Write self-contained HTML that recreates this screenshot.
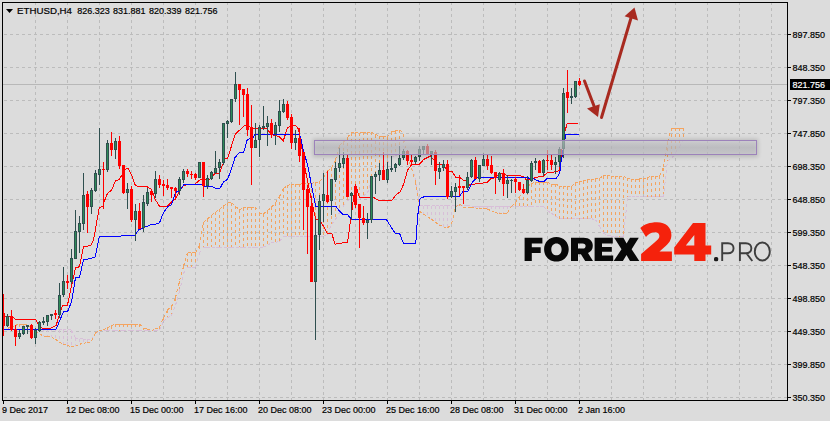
<!DOCTYPE html><html><head><meta charset="utf-8"><style>
html,body{margin:0;padding:0;background:#dcdcdc;}
body{width:830px;height:421px;overflow:hidden;position:relative;font-family:"Liberation Sans",sans-serif;}
svg{position:absolute;left:0;top:0;}
text{font-family:"Liberation Sans",sans-serif;}
</style></head><body>
<svg width="830" height="421" viewBox="0 0 830 421">
<rect x="0" y="0" width="830" height="421" fill="#dcdcdc"/>
<g shape-rendering="crispEdges" stroke="#bcbcbc" stroke-width="1" stroke-dasharray="3,3" fill="none">
<line x1="35.5" y1="2" x2="35.5" y2="400"/>
<line x1="67.5" y1="2" x2="67.5" y2="400"/>
<line x1="99.5" y1="2" x2="99.5" y2="400"/>
<line x1="131.5" y1="2" x2="131.5" y2="400"/>
<line x1="163.5" y1="2" x2="163.5" y2="400"/>
<line x1="195.5" y1="2" x2="195.5" y2="400"/>
<line x1="227.5" y1="2" x2="227.5" y2="400"/>
<line x1="259.5" y1="2" x2="259.5" y2="400"/>
<line x1="291.5" y1="2" x2="291.5" y2="400"/>
<line x1="323.5" y1="2" x2="323.5" y2="400"/>
<line x1="355.5" y1="2" x2="355.5" y2="400"/>
<line x1="387.5" y1="2" x2="387.5" y2="400"/>
<line x1="419.5" y1="2" x2="419.5" y2="400"/>
<line x1="451.5" y1="2" x2="451.5" y2="400"/>
<line x1="483.5" y1="2" x2="483.5" y2="400"/>
<line x1="515.5" y1="2" x2="515.5" y2="400"/>
<line x1="547.5" y1="2" x2="547.5" y2="400"/>
<line x1="579.5" y1="2" x2="579.5" y2="400"/>
<line x1="611.5" y1="2" x2="611.5" y2="400"/>
<line x1="643.5" y1="2" x2="643.5" y2="400"/>
<line x1="675.5" y1="2" x2="675.5" y2="400"/>
<line x1="707.5" y1="2" x2="707.5" y2="400"/>
<line x1="739.5" y1="2" x2="739.5" y2="400"/>
<line x1="771.5" y1="2" x2="771.5" y2="400"/>
<line x1="4" y1="34.5" x2="787" y2="34.5"/>
<line x1="4" y1="67.5" x2="787" y2="67.5"/>
<line x1="4" y1="100.5" x2="787" y2="100.5"/>
<line x1="4" y1="133.5" x2="787" y2="133.5"/>
<line x1="4" y1="166.5" x2="787" y2="166.5"/>
<line x1="4" y1="199.5" x2="787" y2="199.5"/>
<line x1="4" y1="232.5" x2="787" y2="232.5"/>
<line x1="4" y1="265.5" x2="787" y2="265.5"/>
<line x1="4" y1="298.5" x2="787" y2="298.5"/>
<line x1="4" y1="331.5" x2="787" y2="331.5"/>
<line x1="4" y1="364.5" x2="787" y2="364.5"/>
<line x1="4" y1="397.5" x2="787" y2="397.5"/>
</g>
<line x1="3" y1="84.5" x2="787" y2="84.5" stroke="#b8b8b8" stroke-width="1" shape-rendering="crispEdges"/>
<g shape-rendering="crispEdges" stroke-width="1" fill="none" stroke-dasharray="3,3">
<line x1="11.5" y1="327" x2="11.5" y2="329" stroke="#f4a460"/>
<line x1="15.5" y1="325" x2="15.5" y2="329" stroke="#f4a460"/>
<line x1="19.5" y1="324" x2="19.5" y2="329" stroke="#f4a460"/>
<line x1="23.5" y1="324" x2="23.5" y2="329" stroke="#f4a460"/>
<line x1="27.5" y1="325" x2="27.5" y2="329" stroke="#f4a460"/>
<line x1="39.5" y1="329" x2="39.5" y2="334" stroke="#d8bfd8"/>
<line x1="43.5" y1="329" x2="43.5" y2="336" stroke="#d8bfd8"/>
<line x1="47.5" y1="329" x2="47.5" y2="336" stroke="#d8bfd8"/>
<line x1="51.5" y1="329" x2="51.5" y2="337" stroke="#d8bfd8"/>
<line x1="55.5" y1="329" x2="55.5" y2="339" stroke="#d8bfd8"/>
<line x1="59.5" y1="330" x2="59.5" y2="342" stroke="#d8bfd8"/>
<line x1="63.5" y1="330" x2="63.5" y2="344" stroke="#d8bfd8"/>
<line x1="67.5" y1="330" x2="67.5" y2="346" stroke="#d8bfd8"/>
<line x1="71.5" y1="330" x2="71.5" y2="347" stroke="#d8bfd8"/>
<line x1="75.5" y1="338" x2="75.5" y2="346" stroke="#d8bfd8"/>
<line x1="79.5" y1="339" x2="79.5" y2="344" stroke="#d8bfd8"/>
<line x1="83.5" y1="339" x2="83.5" y2="343" stroke="#d8bfd8"/>
<line x1="87.5" y1="339" x2="87.5" y2="343" stroke="#d8bfd8"/>
<line x1="107.5" y1="328" x2="107.5" y2="331" stroke="#f4a460"/>
<line x1="111.5" y1="326" x2="111.5" y2="331" stroke="#f4a460"/>
<line x1="115.5" y1="324" x2="115.5" y2="331" stroke="#f4a460"/>
<line x1="119.5" y1="324" x2="119.5" y2="331" stroke="#f4a460"/>
<line x1="123.5" y1="324" x2="123.5" y2="330" stroke="#f4a460"/>
<line x1="127.5" y1="324" x2="127.5" y2="330" stroke="#f4a460"/>
<line x1="131.5" y1="324" x2="131.5" y2="330" stroke="#f4a460"/>
<line x1="135.5" y1="324" x2="135.5" y2="330" stroke="#f4a460"/>
<line x1="139.5" y1="324" x2="139.5" y2="330" stroke="#f4a460"/>
<line x1="143.5" y1="328" x2="143.5" y2="330" stroke="#f4a460"/>
<line x1="159.5" y1="327" x2="159.5" y2="330" stroke="#f4a460"/>
<line x1="163.5" y1="318" x2="163.5" y2="321" stroke="#f4a460"/>
<line x1="167.5" y1="310" x2="167.5" y2="318" stroke="#f4a460"/>
<line x1="171.5" y1="307" x2="171.5" y2="316" stroke="#f4a460"/>
<line x1="175.5" y1="298" x2="175.5" y2="305" stroke="#f4a460"/>
<line x1="179.5" y1="281" x2="179.5" y2="292" stroke="#f4a460"/>
<line x1="183.5" y1="266" x2="183.5" y2="273" stroke="#f4a460"/>
<line x1="187.5" y1="253" x2="187.5" y2="267" stroke="#f4a460"/>
<line x1="191.5" y1="253" x2="191.5" y2="267" stroke="#f4a460"/>
<line x1="195.5" y1="253" x2="195.5" y2="267" stroke="#f4a460"/>
<line x1="199.5" y1="246" x2="199.5" y2="253" stroke="#f4a460"/>
<line x1="203.5" y1="222" x2="203.5" y2="247" stroke="#f4a460"/>
<line x1="207.5" y1="219" x2="207.5" y2="247" stroke="#f4a460"/>
<line x1="211.5" y1="215" x2="211.5" y2="247" stroke="#f4a460"/>
<line x1="215.5" y1="212" x2="215.5" y2="247" stroke="#f4a460"/>
<line x1="219.5" y1="209" x2="219.5" y2="247" stroke="#f4a460"/>
<line x1="223.5" y1="206" x2="223.5" y2="247" stroke="#f4a460"/>
<line x1="227.5" y1="203" x2="227.5" y2="247" stroke="#f4a460"/>
<line x1="231.5" y1="203" x2="231.5" y2="247" stroke="#f4a460"/>
<line x1="235.5" y1="206" x2="235.5" y2="247" stroke="#f4a460"/>
<line x1="239.5" y1="210" x2="239.5" y2="247" stroke="#f4a460"/>
<line x1="243.5" y1="208" x2="243.5" y2="247" stroke="#f4a460"/>
<line x1="247.5" y1="207" x2="247.5" y2="247" stroke="#f4a460"/>
<line x1="251.5" y1="207" x2="251.5" y2="247" stroke="#f4a460"/>
<line x1="255.5" y1="207" x2="255.5" y2="247" stroke="#f4a460"/>
<line x1="259.5" y1="213" x2="259.5" y2="247" stroke="#f4a460"/>
<line x1="263.5" y1="214" x2="263.5" y2="247" stroke="#f4a460"/>
<line x1="267.5" y1="211" x2="267.5" y2="245" stroke="#f4a460"/>
<line x1="271.5" y1="207" x2="271.5" y2="243" stroke="#f4a460"/>
<line x1="275.5" y1="203" x2="275.5" y2="242" stroke="#f4a460"/>
<line x1="279.5" y1="196" x2="279.5" y2="242" stroke="#f4a460"/>
<line x1="283.5" y1="189" x2="283.5" y2="236" stroke="#f4a460"/>
<line x1="287.5" y1="185" x2="287.5" y2="236" stroke="#f4a460"/>
<line x1="291.5" y1="185" x2="291.5" y2="236" stroke="#f4a460"/>
<line x1="295.5" y1="184" x2="295.5" y2="236" stroke="#f4a460"/>
<line x1="299.5" y1="184" x2="299.5" y2="236" stroke="#f4a460"/>
<line x1="303.5" y1="184" x2="303.5" y2="236" stroke="#f4a460"/>
<line x1="307.5" y1="183" x2="307.5" y2="236" stroke="#f4a460"/>
<line x1="311.5" y1="183" x2="311.5" y2="236" stroke="#f4a460"/>
<line x1="315.5" y1="183" x2="315.5" y2="236" stroke="#f4a460"/>
<line x1="319.5" y1="181" x2="319.5" y2="236" stroke="#f4a460"/>
<line x1="323.5" y1="178" x2="323.5" y2="236" stroke="#f4a460"/>
<line x1="327.5" y1="171" x2="327.5" y2="235" stroke="#f4a460"/>
<line x1="331.5" y1="168" x2="331.5" y2="224" stroke="#f4a460"/>
<line x1="335.5" y1="160" x2="335.5" y2="219" stroke="#f4a460"/>
<line x1="339.5" y1="145" x2="339.5" y2="213" stroke="#f4a460"/>
<line x1="343.5" y1="142" x2="343.5" y2="206" stroke="#f4a460"/>
<line x1="347.5" y1="137" x2="347.5" y2="200" stroke="#f4a460"/>
<line x1="351.5" y1="133" x2="351.5" y2="200" stroke="#f4a460"/>
<line x1="355.5" y1="133" x2="355.5" y2="200" stroke="#f4a460"/>
<line x1="359.5" y1="133" x2="359.5" y2="200" stroke="#f4a460"/>
<line x1="363.5" y1="132" x2="363.5" y2="196" stroke="#f4a460"/>
<line x1="367.5" y1="132" x2="367.5" y2="193" stroke="#f4a460"/>
<line x1="371.5" y1="132" x2="371.5" y2="180" stroke="#f4a460"/>
<line x1="375.5" y1="135" x2="375.5" y2="176" stroke="#f4a460"/>
<line x1="379.5" y1="136" x2="379.5" y2="174" stroke="#f4a460"/>
<line x1="383.5" y1="136" x2="383.5" y2="166" stroke="#f4a460"/>
<line x1="387.5" y1="137" x2="387.5" y2="163" stroke="#f4a460"/>
<line x1="391.5" y1="132" x2="391.5" y2="157" stroke="#f4a460"/>
<line x1="395.5" y1="131" x2="395.5" y2="156" stroke="#f4a460"/>
<line x1="399.5" y1="130" x2="399.5" y2="151" stroke="#f4a460"/>
<line x1="403.5" y1="134" x2="403.5" y2="146" stroke="#f4a460"/>
<line x1="415.5" y1="178" x2="415.5" y2="182" stroke="#d8bfd8"/>
<line x1="419.5" y1="206" x2="419.5" y2="211" stroke="#d8bfd8"/>
<line x1="423.5" y1="206" x2="423.5" y2="214" stroke="#d8bfd8"/>
<line x1="427.5" y1="206" x2="427.5" y2="217" stroke="#d8bfd8"/>
<line x1="431.5" y1="206" x2="431.5" y2="219" stroke="#d8bfd8"/>
<line x1="435.5" y1="206" x2="435.5" y2="222" stroke="#d8bfd8"/>
<line x1="439.5" y1="206" x2="439.5" y2="225" stroke="#d8bfd8"/>
<line x1="443.5" y1="206" x2="443.5" y2="227" stroke="#d8bfd8"/>
<line x1="447.5" y1="206" x2="447.5" y2="228" stroke="#d8bfd8"/>
<line x1="451.5" y1="206" x2="451.5" y2="224" stroke="#d8bfd8"/>
<line x1="459.5" y1="204" x2="459.5" y2="206" stroke="#f4a460"/>
<line x1="475.5" y1="206" x2="475.5" y2="208" stroke="#d8bfd8"/>
<line x1="479.5" y1="206" x2="479.5" y2="208" stroke="#d8bfd8"/>
<line x1="483.5" y1="206" x2="483.5" y2="208" stroke="#d8bfd8"/>
<line x1="487.5" y1="206" x2="487.5" y2="209" stroke="#d8bfd8"/>
<line x1="491.5" y1="206" x2="491.5" y2="211" stroke="#d8bfd8"/>
<line x1="495.5" y1="206" x2="495.5" y2="213" stroke="#d8bfd8"/>
<line x1="499.5" y1="206" x2="499.5" y2="214" stroke="#d8bfd8"/>
<line x1="503.5" y1="206" x2="503.5" y2="213" stroke="#d8bfd8"/>
<line x1="507.5" y1="206" x2="507.5" y2="213" stroke="#d8bfd8"/>
<line x1="515.5" y1="203" x2="515.5" y2="206" stroke="#f4a460"/>
<line x1="519.5" y1="197" x2="519.5" y2="206" stroke="#f4a460"/>
<line x1="523.5" y1="191" x2="523.5" y2="206" stroke="#f4a460"/>
<line x1="527.5" y1="186" x2="527.5" y2="206" stroke="#f4a460"/>
<line x1="531.5" y1="184" x2="531.5" y2="206" stroke="#f4a460"/>
<line x1="535.5" y1="182" x2="535.5" y2="206" stroke="#f4a460"/>
<line x1="539.5" y1="182" x2="539.5" y2="206" stroke="#f4a460"/>
<line x1="543.5" y1="182" x2="543.5" y2="206" stroke="#f4a460"/>
<line x1="547.5" y1="182" x2="547.5" y2="210" stroke="#f4a460"/>
<line x1="551.5" y1="184" x2="551.5" y2="213" stroke="#f4a460"/>
<line x1="555.5" y1="184" x2="555.5" y2="216" stroke="#f4a460"/>
<line x1="559.5" y1="186" x2="559.5" y2="219" stroke="#f4a460"/>
<line x1="563.5" y1="186" x2="563.5" y2="219" stroke="#f4a460"/>
<line x1="567.5" y1="187" x2="567.5" y2="219" stroke="#f4a460"/>
<line x1="571.5" y1="187" x2="571.5" y2="219" stroke="#f4a460"/>
<line x1="575.5" y1="183" x2="575.5" y2="219" stroke="#f4a460"/>
<line x1="579.5" y1="182" x2="579.5" y2="219" stroke="#f4a460"/>
<line x1="583.5" y1="181" x2="583.5" y2="219" stroke="#f4a460"/>
<line x1="587.5" y1="180" x2="587.5" y2="219" stroke="#f4a460"/>
<line x1="591.5" y1="179" x2="591.5" y2="219" stroke="#f4a460"/>
<line x1="595.5" y1="179" x2="595.5" y2="220" stroke="#f4a460"/>
<line x1="599.5" y1="178" x2="599.5" y2="226" stroke="#f4a460"/>
<line x1="603.5" y1="176" x2="603.5" y2="233" stroke="#f4a460"/>
<line x1="607.5" y1="176" x2="607.5" y2="235" stroke="#f4a460"/>
<line x1="611.5" y1="176" x2="611.5" y2="236" stroke="#f4a460"/>
<line x1="615.5" y1="176" x2="615.5" y2="236" stroke="#f4a460"/>
<line x1="619.5" y1="176" x2="619.5" y2="237" stroke="#f4a460"/>
<line x1="623.5" y1="177" x2="623.5" y2="237" stroke="#f4a460"/>
<line x1="627.5" y1="178" x2="627.5" y2="197" stroke="#f4a460"/>
<line x1="631.5" y1="179" x2="631.5" y2="197" stroke="#f4a460"/>
<line x1="635.5" y1="179" x2="635.5" y2="197" stroke="#f4a460"/>
<line x1="639.5" y1="179" x2="639.5" y2="197" stroke="#f4a460"/>
<line x1="643.5" y1="179" x2="643.5" y2="197" stroke="#f4a460"/>
<line x1="647.5" y1="177" x2="647.5" y2="197" stroke="#f4a460"/>
<line x1="651.5" y1="177" x2="651.5" y2="197" stroke="#f4a460"/>
<line x1="655.5" y1="176" x2="655.5" y2="197" stroke="#f4a460"/>
<line x1="659.5" y1="176" x2="659.5" y2="197" stroke="#f4a460"/>
<line x1="663.5" y1="168" x2="663.5" y2="197" stroke="#f4a460"/>
<line x1="667.5" y1="142" x2="667.5" y2="161" stroke="#f4a460"/>
<line x1="671.5" y1="128" x2="671.5" y2="158" stroke="#f4a460"/>
<line x1="675.5" y1="128" x2="675.5" y2="153" stroke="#f4a460"/>
<line x1="679.5" y1="128" x2="679.5" y2="147" stroke="#f4a460"/>
<line x1="683.5" y1="128" x2="683.5" y2="140" stroke="#f4a460"/>
</g>
<g shape-rendering="crispEdges" stroke="#d8bfd8" stroke-width="1" fill="none" stroke-dasharray="3,3">
<line x1="7.5" y1="329.4" x2="11.5" y2="329.4"/>
<line x1="11.5" y1="329.4" x2="15.5" y2="329.4"/>
<line x1="15.5" y1="329.4" x2="19.5" y2="329.4"/>
<line x1="19.5" y1="329.4" x2="23.5" y2="329.4"/>
<line x1="23.5" y1="329.4" x2="27.5" y2="329.4"/>
<line x1="27.5" y1="329.4" x2="31.5" y2="329.4"/>
<line x1="31.5" y1="329.4" x2="35.5" y2="329.4"/>
<line x1="35.5" y1="329.4" x2="39.5" y2="329.4"/>
<line x1="39.5" y1="329.4" x2="43.5" y2="329.4"/>
<line x1="43.5" y1="329.4" x2="47.5" y2="329.4"/>
<line x1="47.5" y1="329.4" x2="51.5" y2="329.4"/>
<line x1="51.5" y1="329.4" x2="55.5" y2="329.4"/>
<line x1="55.5" y1="329.4" x2="59.5" y2="329.5"/>
<line x1="59.5" y1="329.5" x2="63.5" y2="329.7"/>
<line x1="63.5" y1="329.7" x2="67.5" y2="329.8"/>
<line x1="67.5" y1="329.8" x2="71.5" y2="330.0"/>
<line x1="71.5" y1="330.0" x2="75.5" y2="338.1"/>
<line x1="75.5" y1="338.1" x2="79.5" y2="338.7"/>
<line x1="79.5" y1="338.7" x2="83.5" y2="339.0"/>
<line x1="83.5" y1="339.0" x2="87.5" y2="339.2"/>
<line x1="87.5" y1="339.2" x2="91.5" y2="339.5"/>
<line x1="91.5" y1="339.5" x2="95.5" y2="333.3"/>
<line x1="95.5" y1="333.3" x2="99.5" y2="330.8"/>
<line x1="99.5" y1="330.8" x2="103.5" y2="330.7"/>
<line x1="103.5" y1="330.7" x2="107.5" y2="330.7"/>
<line x1="107.5" y1="330.7" x2="111.5" y2="330.6"/>
<line x1="111.5" y1="330.6" x2="115.5" y2="330.6"/>
<line x1="115.5" y1="330.6" x2="119.5" y2="330.5"/>
<line x1="119.5" y1="330.5" x2="123.5" y2="330.5"/>
<line x1="123.5" y1="330.5" x2="127.5" y2="330.4"/>
<line x1="127.5" y1="330.4" x2="131.5" y2="330.4"/>
<line x1="131.5" y1="330.4" x2="135.5" y2="330.3"/>
<line x1="135.5" y1="330.3" x2="139.5" y2="330.3"/>
<line x1="139.5" y1="330.3" x2="143.5" y2="330.2"/>
<line x1="143.5" y1="330.2" x2="147.5" y2="330.2"/>
<line x1="147.5" y1="330.2" x2="151.5" y2="330.1"/>
<line x1="151.5" y1="330.1" x2="155.5" y2="330.1"/>
<line x1="155.5" y1="330.1" x2="159.5" y2="330.0"/>
<line x1="159.5" y1="330.0" x2="163.5" y2="321.1"/>
<line x1="163.5" y1="321.1" x2="167.5" y2="317.7"/>
<line x1="167.5" y1="317.7" x2="171.5" y2="315.7"/>
<line x1="171.5" y1="315.7" x2="175.5" y2="305.3"/>
<line x1="175.5" y1="305.3" x2="179.5" y2="291.7"/>
<line x1="179.5" y1="291.7" x2="183.5" y2="273.2"/>
<line x1="183.5" y1="273.2" x2="187.5" y2="267.5"/>
<line x1="187.5" y1="267.5" x2="191.5" y2="267.0"/>
<line x1="191.5" y1="267.0" x2="195.5" y2="267.0"/>
<line x1="195.5" y1="267.0" x2="199.5" y2="252.9"/>
<line x1="199.5" y1="252.9" x2="203.5" y2="247.5"/>
<line x1="203.5" y1="247.5" x2="207.5" y2="247.5"/>
<line x1="207.5" y1="247.5" x2="211.5" y2="247.4"/>
<line x1="211.5" y1="247.4" x2="215.5" y2="247.4"/>
<line x1="215.5" y1="247.4" x2="219.5" y2="247.4"/>
<line x1="219.5" y1="247.4" x2="223.5" y2="247.3"/>
<line x1="223.5" y1="247.3" x2="227.5" y2="247.3"/>
<line x1="227.5" y1="247.3" x2="231.5" y2="247.3"/>
<line x1="231.5" y1="247.3" x2="235.5" y2="247.2"/>
<line x1="235.5" y1="247.2" x2="239.5" y2="247.2"/>
<line x1="239.5" y1="247.2" x2="243.5" y2="247.2"/>
<line x1="243.5" y1="247.2" x2="247.5" y2="247.1"/>
<line x1="247.5" y1="247.1" x2="251.5" y2="247.1"/>
<line x1="251.5" y1="247.1" x2="255.5" y2="247.1"/>
<line x1="255.5" y1="247.1" x2="259.5" y2="247.0"/>
<line x1="259.5" y1="247.0" x2="263.5" y2="247.0"/>
<line x1="263.5" y1="247.0" x2="267.5" y2="245.4"/>
<line x1="267.5" y1="245.4" x2="271.5" y2="242.8"/>
<line x1="271.5" y1="242.8" x2="275.5" y2="242.2"/>
<line x1="275.5" y1="242.2" x2="279.5" y2="241.7"/>
<line x1="279.5" y1="241.7" x2="283.5" y2="236.3"/>
<line x1="283.5" y1="236.3" x2="287.5" y2="236.3"/>
<line x1="287.5" y1="236.3" x2="291.5" y2="236.3"/>
<line x1="291.5" y1="236.3" x2="295.5" y2="236.3"/>
<line x1="295.5" y1="236.3" x2="299.5" y2="236.3"/>
<line x1="299.5" y1="236.3" x2="303.5" y2="236.3"/>
<line x1="303.5" y1="236.3" x2="307.5" y2="236.3"/>
<line x1="307.5" y1="236.3" x2="311.5" y2="236.3"/>
<line x1="311.5" y1="236.3" x2="315.5" y2="236.3"/>
<line x1="315.5" y1="236.3" x2="319.5" y2="236.3"/>
<line x1="319.5" y1="236.3" x2="323.5" y2="236.3"/>
<line x1="323.5" y1="236.3" x2="327.5" y2="234.9"/>
<line x1="327.5" y1="234.9" x2="331.5" y2="224.4"/>
<line x1="331.5" y1="224.4" x2="335.5" y2="219.3"/>
<line x1="335.5" y1="219.3" x2="339.5" y2="212.7"/>
<line x1="339.5" y1="212.7" x2="343.5" y2="206.1"/>
<line x1="343.5" y1="206.1" x2="347.5" y2="200.1"/>
<line x1="347.5" y1="200.1" x2="351.5" y2="199.8"/>
<line x1="351.5" y1="199.8" x2="355.5" y2="199.8"/>
<line x1="355.5" y1="199.8" x2="359.5" y2="199.8"/>
<line x1="359.5" y1="199.8" x2="363.5" y2="195.6"/>
<line x1="363.5" y1="195.6" x2="367.5" y2="193.2"/>
<line x1="367.5" y1="193.2" x2="371.5" y2="180.4"/>
<line x1="371.5" y1="180.4" x2="375.5" y2="176.2"/>
<line x1="375.5" y1="176.2" x2="379.5" y2="174.2"/>
<line x1="379.5" y1="174.2" x2="383.5" y2="166.1"/>
<line x1="383.5" y1="166.1" x2="387.5" y2="163.2"/>
<line x1="387.5" y1="163.2" x2="391.5" y2="156.9"/>
<line x1="391.5" y1="156.9" x2="395.5" y2="156.0"/>
<line x1="395.5" y1="156.0" x2="399.5" y2="151.0"/>
<line x1="399.5" y1="151.0" x2="403.5" y2="146.0"/>
<line x1="403.5" y1="146.0" x2="407.5" y2="156.3"/>
<line x1="407.5" y1="156.3" x2="411.5" y2="168.0"/>
<line x1="411.5" y1="168.0" x2="415.5" y2="178.3"/>
<line x1="415.5" y1="178.3" x2="419.5" y2="205.7"/>
<line x1="419.5" y1="205.7" x2="423.5" y2="205.7"/>
<line x1="423.5" y1="205.7" x2="427.5" y2="205.7"/>
<line x1="427.5" y1="205.7" x2="431.5" y2="205.8"/>
<line x1="431.5" y1="205.8" x2="435.5" y2="205.8"/>
<line x1="435.5" y1="205.8" x2="439.5" y2="205.8"/>
<line x1="439.5" y1="205.8" x2="443.5" y2="205.8"/>
<line x1="443.5" y1="205.8" x2="447.5" y2="205.8"/>
<line x1="447.5" y1="205.8" x2="451.5" y2="205.9"/>
<line x1="451.5" y1="205.9" x2="455.5" y2="205.9"/>
<line x1="455.5" y1="205.9" x2="459.5" y2="205.9"/>
<line x1="459.5" y1="205.9" x2="463.5" y2="205.9"/>
<line x1="463.5" y1="205.9" x2="467.5" y2="205.9"/>
<line x1="467.5" y1="205.9" x2="471.5" y2="206.0"/>
<line x1="471.5" y1="206.0" x2="475.5" y2="206.0"/>
<line x1="475.5" y1="206.0" x2="479.5" y2="206.0"/>
<line x1="479.5" y1="206.0" x2="483.5" y2="206.0"/>
<line x1="483.5" y1="206.0" x2="487.5" y2="206.0"/>
<line x1="487.5" y1="206.0" x2="491.5" y2="206.0"/>
<line x1="491.5" y1="206.0" x2="495.5" y2="206.1"/>
<line x1="495.5" y1="206.1" x2="499.5" y2="206.1"/>
<line x1="499.5" y1="206.1" x2="503.5" y2="206.1"/>
<line x1="503.5" y1="206.1" x2="507.5" y2="206.1"/>
<line x1="507.5" y1="206.1" x2="511.5" y2="206.1"/>
<line x1="511.5" y1="206.1" x2="515.5" y2="206.2"/>
<line x1="515.5" y1="206.2" x2="519.5" y2="206.2"/>
<line x1="519.5" y1="206.2" x2="523.5" y2="206.2"/>
<line x1="523.5" y1="206.2" x2="527.5" y2="206.2"/>
<line x1="527.5" y1="206.2" x2="531.5" y2="206.2"/>
<line x1="531.5" y1="206.2" x2="535.5" y2="206.3"/>
<line x1="535.5" y1="206.3" x2="539.5" y2="206.3"/>
<line x1="539.5" y1="206.3" x2="543.5" y2="206.3"/>
<line x1="543.5" y1="206.3" x2="547.5" y2="210.4"/>
<line x1="547.5" y1="210.4" x2="551.5" y2="213.4"/>
<line x1="551.5" y1="213.4" x2="555.5" y2="216.1"/>
<line x1="555.5" y1="216.1" x2="559.5" y2="218.8"/>
<line x1="559.5" y1="218.8" x2="563.5" y2="218.8"/>
<line x1="563.5" y1="218.8" x2="567.5" y2="218.8"/>
<line x1="567.5" y1="218.8" x2="571.5" y2="218.8"/>
<line x1="571.5" y1="218.8" x2="575.5" y2="218.8"/>
<line x1="575.5" y1="218.8" x2="579.5" y2="218.8"/>
<line x1="579.5" y1="218.8" x2="583.5" y2="218.8"/>
<line x1="583.5" y1="218.8" x2="587.5" y2="218.8"/>
<line x1="587.5" y1="218.8" x2="591.5" y2="218.8"/>
<line x1="591.5" y1="218.8" x2="595.5" y2="219.6"/>
<line x1="595.5" y1="219.6" x2="599.5" y2="226.3"/>
<line x1="599.5" y1="226.3" x2="603.5" y2="233.0"/>
<line x1="603.5" y1="233.0" x2="607.5" y2="235.4"/>
<line x1="607.5" y1="235.4" x2="611.5" y2="236.2"/>
<line x1="611.5" y1="236.2" x2="615.5" y2="236.5"/>
<line x1="615.5" y1="236.5" x2="619.5" y2="236.7"/>
<line x1="619.5" y1="236.7" x2="623.5" y2="237.0"/>
<line x1="623.5" y1="237.0" x2="627.5" y2="196.6"/>
<line x1="627.5" y1="196.6" x2="631.5" y2="196.6"/>
<line x1="631.5" y1="196.6" x2="635.5" y2="196.6"/>
<line x1="635.5" y1="196.6" x2="639.5" y2="196.6"/>
<line x1="639.5" y1="196.6" x2="643.5" y2="196.6"/>
<line x1="643.5" y1="196.6" x2="647.5" y2="196.6"/>
<line x1="647.5" y1="196.6" x2="651.5" y2="196.6"/>
<line x1="651.5" y1="196.6" x2="655.5" y2="196.6"/>
<line x1="655.5" y1="196.6" x2="659.5" y2="196.6"/>
<line x1="659.5" y1="196.6" x2="663.5" y2="196.6"/>
<line x1="663.5" y1="196.6" x2="667.5" y2="161.2"/>
<line x1="667.5" y1="161.2" x2="671.5" y2="158.5"/>
<line x1="671.5" y1="158.5" x2="675.5" y2="152.8"/>
<line x1="675.5" y1="152.8" x2="679.5" y2="147.1"/>
<line x1="679.5" y1="147.1" x2="683.5" y2="140.4"/>
</g>
<g shape-rendering="crispEdges" stroke="#f4a460" stroke-width="1" fill="none" stroke-dasharray="3,3">
<line x1="7.5" y1="328.4" x2="11.5" y2="326.9"/>
<line x1="11.5" y1="326.9" x2="15.5" y2="325.2"/>
<line x1="15.5" y1="325.2" x2="19.5" y2="324.4"/>
<line x1="19.5" y1="324.4" x2="23.5" y2="324.4"/>
<line x1="23.5" y1="324.4" x2="27.5" y2="325.1"/>
<line x1="27.5" y1="325.1" x2="31.5" y2="327.8"/>
<line x1="31.5" y1="327.8" x2="35.5" y2="330.8"/>
<line x1="35.5" y1="330.8" x2="39.5" y2="333.6"/>
<line x1="39.5" y1="333.6" x2="43.5" y2="336.3"/>
<line x1="43.5" y1="336.3" x2="47.5" y2="336.3"/>
<line x1="47.5" y1="336.3" x2="51.5" y2="336.8"/>
<line x1="51.5" y1="336.8" x2="55.5" y2="339.4"/>
<line x1="55.5" y1="339.4" x2="59.5" y2="342.1"/>
<line x1="59.5" y1="342.1" x2="63.5" y2="344.4"/>
<line x1="63.5" y1="344.4" x2="67.5" y2="345.5"/>
<line x1="67.5" y1="345.5" x2="71.5" y2="346.6"/>
<line x1="71.5" y1="346.6" x2="75.5" y2="346.3"/>
<line x1="75.5" y1="346.3" x2="79.5" y2="344.3"/>
<line x1="79.5" y1="344.3" x2="83.5" y2="343.2"/>
<line x1="83.5" y1="343.2" x2="87.5" y2="342.8"/>
<line x1="87.5" y1="342.8" x2="91.5" y2="341.3"/>
<line x1="91.5" y1="341.3" x2="95.5" y2="332.9"/>
<line x1="95.5" y1="332.9" x2="99.5" y2="330.8"/>
<line x1="99.5" y1="330.8" x2="103.5" y2="329.6"/>
<line x1="103.5" y1="329.6" x2="107.5" y2="327.9"/>
<line x1="107.5" y1="327.9" x2="111.5" y2="325.6"/>
<line x1="111.5" y1="325.6" x2="115.5" y2="324.0"/>
<line x1="115.5" y1="324.0" x2="119.5" y2="324.0"/>
<line x1="119.5" y1="324.0" x2="123.5" y2="324.0"/>
<line x1="123.5" y1="324.0" x2="127.5" y2="324.0"/>
<line x1="127.5" y1="324.0" x2="131.5" y2="324.0"/>
<line x1="131.5" y1="324.0" x2="135.5" y2="324.0"/>
<line x1="135.5" y1="324.0" x2="139.5" y2="324.2"/>
<line x1="139.5" y1="324.2" x2="143.5" y2="328.1"/>
<line x1="143.5" y1="328.1" x2="147.5" y2="329.3"/>
<line x1="147.5" y1="329.3" x2="151.5" y2="330.4"/>
<line x1="151.5" y1="330.4" x2="155.5" y2="329.0"/>
<line x1="155.5" y1="329.0" x2="159.5" y2="327.4"/>
<line x1="159.5" y1="327.4" x2="163.5" y2="317.8"/>
<line x1="163.5" y1="317.8" x2="167.5" y2="309.9"/>
<line x1="167.5" y1="309.9" x2="171.5" y2="306.7"/>
<line x1="171.5" y1="306.7" x2="175.5" y2="297.7"/>
<line x1="175.5" y1="297.7" x2="179.5" y2="280.5"/>
<line x1="179.5" y1="280.5" x2="183.5" y2="266.2"/>
<line x1="183.5" y1="266.2" x2="187.5" y2="252.9"/>
<line x1="187.5" y1="252.9" x2="191.5" y2="252.9"/>
<line x1="191.5" y1="252.9" x2="195.5" y2="252.9"/>
<line x1="195.5" y1="252.9" x2="199.5" y2="245.5"/>
<line x1="199.5" y1="245.5" x2="203.5" y2="222.3"/>
<line x1="203.5" y1="222.3" x2="207.5" y2="218.8"/>
<line x1="207.5" y1="218.8" x2="211.5" y2="215.3"/>
<line x1="211.5" y1="215.3" x2="215.5" y2="212.3"/>
<line x1="215.5" y1="212.3" x2="219.5" y2="209.2"/>
<line x1="219.5" y1="209.2" x2="223.5" y2="206.0"/>
<line x1="223.5" y1="206.0" x2="227.5" y2="202.7"/>
<line x1="227.5" y1="202.7" x2="231.5" y2="202.7"/>
<line x1="231.5" y1="202.7" x2="235.5" y2="206.4"/>
<line x1="235.5" y1="206.4" x2="239.5" y2="209.6"/>
<line x1="239.5" y1="209.6" x2="243.5" y2="207.8"/>
<line x1="243.5" y1="207.8" x2="247.5" y2="207.0"/>
<line x1="247.5" y1="207.0" x2="251.5" y2="207.0"/>
<line x1="251.5" y1="207.0" x2="255.5" y2="207.1"/>
<line x1="255.5" y1="207.1" x2="259.5" y2="212.9"/>
<line x1="259.5" y1="212.9" x2="263.5" y2="213.9"/>
<line x1="263.5" y1="213.9" x2="267.5" y2="210.6"/>
<line x1="267.5" y1="210.6" x2="271.5" y2="207.2"/>
<line x1="271.5" y1="207.2" x2="275.5" y2="203.2"/>
<line x1="275.5" y1="203.2" x2="279.5" y2="196.4"/>
<line x1="279.5" y1="196.4" x2="283.5" y2="188.6"/>
<line x1="283.5" y1="188.6" x2="287.5" y2="185.2"/>
<line x1="287.5" y1="185.2" x2="291.5" y2="184.6"/>
<line x1="291.5" y1="184.6" x2="295.5" y2="184.3"/>
<line x1="295.5" y1="184.3" x2="299.5" y2="184.1"/>
<line x1="299.5" y1="184.1" x2="303.5" y2="183.8"/>
<line x1="303.5" y1="183.8" x2="307.5" y2="183.5"/>
<line x1="307.5" y1="183.5" x2="311.5" y2="183.1"/>
<line x1="311.5" y1="183.1" x2="315.5" y2="182.8"/>
<line x1="315.5" y1="182.8" x2="319.5" y2="181.5"/>
<line x1="319.5" y1="181.5" x2="323.5" y2="177.9"/>
<line x1="323.5" y1="177.9" x2="327.5" y2="170.9"/>
<line x1="327.5" y1="170.9" x2="331.5" y2="168.0"/>
<line x1="331.5" y1="168.0" x2="335.5" y2="160.3"/>
<line x1="335.5" y1="160.3" x2="339.5" y2="145.2"/>
<line x1="339.5" y1="145.2" x2="343.5" y2="142.2"/>
<line x1="343.5" y1="142.2" x2="347.5" y2="137.4"/>
<line x1="347.5" y1="137.4" x2="351.5" y2="132.7"/>
<line x1="351.5" y1="132.7" x2="355.5" y2="132.6"/>
<line x1="355.5" y1="132.6" x2="359.5" y2="132.5"/>
<line x1="359.5" y1="132.5" x2="363.5" y2="132.5"/>
<line x1="363.5" y1="132.5" x2="367.5" y2="132.4"/>
<line x1="367.5" y1="132.4" x2="371.5" y2="132.3"/>
<line x1="371.5" y1="132.3" x2="375.5" y2="134.5"/>
<line x1="375.5" y1="134.5" x2="379.5" y2="136.3"/>
<line x1="379.5" y1="136.3" x2="383.5" y2="136.0"/>
<line x1="383.5" y1="136.0" x2="387.5" y2="136.8"/>
<line x1="387.5" y1="136.8" x2="391.5" y2="131.9"/>
<line x1="391.5" y1="131.9" x2="395.5" y2="130.7"/>
<line x1="395.5" y1="130.7" x2="399.5" y2="129.6"/>
<line x1="399.5" y1="129.6" x2="403.5" y2="133.7"/>
<line x1="403.5" y1="133.7" x2="407.5" y2="156.5"/>
<line x1="407.5" y1="156.5" x2="411.5" y2="167.9"/>
<line x1="411.5" y1="167.9" x2="415.5" y2="181.5"/>
<line x1="415.5" y1="181.5" x2="419.5" y2="211.4"/>
<line x1="419.5" y1="211.4" x2="423.5" y2="214.0"/>
<line x1="423.5" y1="214.0" x2="427.5" y2="216.7"/>
<line x1="427.5" y1="216.7" x2="431.5" y2="219.4"/>
<line x1="431.5" y1="219.4" x2="435.5" y2="222.2"/>
<line x1="435.5" y1="222.2" x2="439.5" y2="225.1"/>
<line x1="439.5" y1="225.1" x2="443.5" y2="226.8"/>
<line x1="443.5" y1="226.8" x2="447.5" y2="227.8"/>
<line x1="447.5" y1="227.8" x2="451.5" y2="224.0"/>
<line x1="451.5" y1="224.0" x2="455.5" y2="207.2"/>
<line x1="455.5" y1="207.2" x2="459.5" y2="203.6"/>
<line x1="459.5" y1="203.6" x2="463.5" y2="207.3"/>
<line x1="463.5" y1="207.3" x2="467.5" y2="207.9"/>
<line x1="467.5" y1="207.9" x2="471.5" y2="207.9"/>
<line x1="471.5" y1="207.9" x2="475.5" y2="208.0"/>
<line x1="475.5" y1="208.0" x2="479.5" y2="208.1"/>
<line x1="479.5" y1="208.1" x2="483.5" y2="208.2"/>
<line x1="483.5" y1="208.2" x2="487.5" y2="209.3"/>
<line x1="487.5" y1="209.3" x2="491.5" y2="210.7"/>
<line x1="491.5" y1="210.7" x2="495.5" y2="212.5"/>
<line x1="495.5" y1="212.5" x2="499.5" y2="213.9"/>
<line x1="499.5" y1="213.9" x2="503.5" y2="213.5"/>
<line x1="503.5" y1="213.5" x2="507.5" y2="213.0"/>
<line x1="507.5" y1="213.0" x2="511.5" y2="206.3"/>
<line x1="511.5" y1="206.3" x2="515.5" y2="202.9"/>
<line x1="515.5" y1="202.9" x2="519.5" y2="196.9"/>
<line x1="519.5" y1="196.9" x2="523.5" y2="191.2"/>
<line x1="523.5" y1="191.2" x2="527.5" y2="186.4"/>
<line x1="527.5" y1="186.4" x2="531.5" y2="183.6"/>
<line x1="531.5" y1="183.6" x2="535.5" y2="182.2"/>
<line x1="535.5" y1="182.2" x2="539.5" y2="182.2"/>
<line x1="539.5" y1="182.2" x2="543.5" y2="182.2"/>
<line x1="543.5" y1="182.2" x2="547.5" y2="182.2"/>
<line x1="547.5" y1="182.2" x2="551.5" y2="184.0"/>
<line x1="551.5" y1="184.0" x2="555.5" y2="184.0"/>
<line x1="555.5" y1="184.0" x2="559.5" y2="186.0"/>
<line x1="559.5" y1="186.0" x2="563.5" y2="186.3"/>
<line x1="563.5" y1="186.3" x2="567.5" y2="186.7"/>
<line x1="567.5" y1="186.7" x2="571.5" y2="186.5"/>
<line x1="571.5" y1="186.5" x2="575.5" y2="182.8"/>
<line x1="575.5" y1="182.8" x2="579.5" y2="181.6"/>
<line x1="579.5" y1="181.6" x2="583.5" y2="180.6"/>
<line x1="583.5" y1="180.6" x2="587.5" y2="179.6"/>
<line x1="587.5" y1="179.6" x2="591.5" y2="179.2"/>
<line x1="591.5" y1="179.2" x2="595.5" y2="178.9"/>
<line x1="595.5" y1="178.9" x2="599.5" y2="178.3"/>
<line x1="599.5" y1="178.3" x2="603.5" y2="175.8"/>
<line x1="603.5" y1="175.8" x2="607.5" y2="175.9"/>
<line x1="607.5" y1="175.9" x2="611.5" y2="176.0"/>
<line x1="611.5" y1="176.0" x2="615.5" y2="176.2"/>
<line x1="615.5" y1="176.2" x2="619.5" y2="176.4"/>
<line x1="619.5" y1="176.4" x2="623.5" y2="176.6"/>
<line x1="623.5" y1="176.6" x2="627.5" y2="177.8"/>
<line x1="627.5" y1="177.8" x2="631.5" y2="179.5"/>
<line x1="631.5" y1="179.5" x2="635.5" y2="179.2"/>
<line x1="635.5" y1="179.2" x2="639.5" y2="179.0"/>
<line x1="639.5" y1="179.0" x2="643.5" y2="178.7"/>
<line x1="643.5" y1="178.7" x2="647.5" y2="177.4"/>
<line x1="647.5" y1="177.4" x2="651.5" y2="176.5"/>
<line x1="651.5" y1="176.5" x2="655.5" y2="176.2"/>
<line x1="655.5" y1="176.2" x2="659.5" y2="175.9"/>
<line x1="659.5" y1="175.9" x2="663.5" y2="167.5"/>
<line x1="663.5" y1="167.5" x2="667.5" y2="142.1"/>
<line x1="667.5" y1="142.1" x2="671.5" y2="128.5"/>
<line x1="671.5" y1="128.5" x2="675.5" y2="128.5"/>
<line x1="675.5" y1="128.5" x2="679.5" y2="128.5"/>
<line x1="679.5" y1="128.5" x2="683.5" y2="128.5"/>
</g>
<polyline points="3.0,316.0 12.0,316.0 15.4,319.4 35.4,319.4 40.7,327.7 44.0,328.6 50.0,328.6 56.0,325.7 58.6,317.5 62.4,306.0 63.5,305.0 67.5,305.0 71.5,286.0 75.5,267.9 79.5,266.7 83.5,247.0 90.6,245.5 93.5,240.3 99.3,207.5 103.1,206.6 104.0,202.0 107.5,193.4 111.5,190.3 115.5,180.9 119.5,179.3 123.5,172.0 126.5,168.6 128.5,169.0 131.5,174.8 135.4,185.6 137.2,186.2 145.0,186.2 147.5,187.0 151.5,189.2 155.5,200.0 159.5,206.2 167.5,206.2 171.5,202.0 175.5,199.0 179.5,191.0 183.5,185.3 195.0,184.0 199.8,180.0 209.5,179.6 214.8,173.8 219.6,172.8 223.0,163.7 224.9,158.4 227.6,158.3 234.8,135.6 235.8,133.7 244.0,126.0 247.8,125.2 251.7,128.4 267.0,128.4 269.2,131.7 271.6,134.6 279.3,136.6 283.2,140.9 285.6,133.7 287.5,127.4 290.4,126.8 295.3,125.2 298.0,128.3 299.6,133.6 305.2,169.6 313.0,207.5 315.8,219.0 317.8,219.6 321.2,222.5 326.0,230.7 327.4,233.4 331.7,233.4 335.3,244.6 337.5,243.3 347.5,242.6 351.0,217.2 355.4,184.6 359.5,197.2 373.0,197.2 379.7,201.0 391.7,200.3 397.0,193.8 400.4,191.9 403.8,183.7 407.7,169.9 411.5,164.6 419.7,164.0 423.9,159.3 430.6,155.9 434.0,160.2 436.9,164.6 442.0,164.6 445.5,168.0 448.4,171.3 451.8,171.3 455.7,177.0 459.5,177.0 463.4,180.3 466.3,180.3 469.6,185.0 472.5,184.2 479.8,183.7 487.5,182.2 491.3,178.4 494.2,177.9 499.5,174.0 503.7,173.4 506.6,175.3 518.0,175.3 524.0,176.7 525.8,179.6 533.5,178.5 536.4,177.2 543.2,176.3 547.5,172.5 556.7,171.8 559.6,170.0 560.5,163.3 561.5,154.6 562.0,148.9 565.0,130.7 567.3,123.4 577.0,123.4 578.5,122.6" fill="none" stroke="#ff0000" stroke-width="1" shape-rendering="crispEdges"/>
<polyline points="3.0,329.4 56.0,329.4 63.5,311.7 67.5,311.7 71.5,302.0 75.5,277.5 79.5,277.5 83.5,259.6 90.6,258.6 95.4,256.7 99.3,236.4 115.7,236.4 135.0,235.0 138.8,229.7 143.6,227.8 151.5,224.3 155.5,224.2 159.5,222.8 163.5,212.5 167.5,207.0 171.5,204.5 175.5,192.5 179.5,190.5 183.5,185.0 185.0,184.7 201.7,184.6 203.7,186.3 212.3,186.3 215.2,188.3 220.0,188.3 223.4,182.0 227.3,179.6 229.7,173.8 233.6,162.2 234.8,157.8 239.2,152.5 243.5,152.5 245.4,147.2 246.9,140.4 249.8,138.5 252.7,138.3 254.6,135.0 299.0,134.6 300.6,137.5 303.4,151.0 307.3,163.6 313.6,196.0 315.8,206.4 336.0,206.4 339.0,210.4 342.8,214.3 347.7,214.8 351.5,219.5 386.4,219.5 395.0,233.2 399.5,233.2 403.3,243.0 415.8,243.0 416.8,227.2 417.8,215.0 419.2,205.0 420.0,198.6 424.8,196.4 459.5,196.4 462.9,191.4 467.7,191.4 472.0,182.7 476.9,177.4 524.0,177.4 533.6,178.7 538.9,181.2 544.2,181.2 547.0,178.7 555.7,178.7 558.6,175.3 560.5,169.0 561.0,162.3 562.5,154.6 563.0,149.8 566.0,134.3 579.0,134.3" fill="none" stroke="#0000ff" stroke-width="1" shape-rendering="crispEdges"/>
<g shape-rendering="crispEdges">
<rect x="3" y="294" width="1" height="42" fill="#ff0000"/>
<rect x="2" y="313" width="3" height="13" fill="#ff0000"/>
<rect x="7" y="314" width="1" height="13" fill="#2f4f4f"/>
<rect x="6" y="316" width="3" height="10" fill="#2f4f4f"/>
<rect x="7" y="317" width="1" height="8" fill="#2e8b57"/>
<rect x="11" y="310" width="1" height="21" fill="#ff0000"/>
<rect x="10" y="316" width="3" height="14" fill="#ff0000"/>
<rect x="15" y="325" width="1" height="21" fill="#ff0000"/>
<rect x="14" y="329" width="3" height="8" fill="#ff0000"/>
<rect x="19" y="330" width="1" height="9" fill="#2f4f4f"/>
<rect x="18" y="333" width="3" height="4" fill="#2f4f4f"/>
<rect x="19" y="334" width="1" height="2" fill="#2e8b57"/>
<rect x="23" y="326" width="1" height="9" fill="#2f4f4f"/>
<rect x="22" y="326" width="3" height="8" fill="#2f4f4f"/>
<rect x="23" y="327" width="1" height="6" fill="#2e8b57"/>
<rect x="27" y="325" width="1" height="9" fill="#2f4f4f"/>
<rect x="26" y="325" width="3" height="2" fill="#2f4f4f"/>
<rect x="31" y="324" width="1" height="15" fill="#ff0000"/>
<rect x="30" y="325" width="3" height="13" fill="#ff0000"/>
<rect x="35" y="328" width="1" height="16" fill="#2f4f4f"/>
<rect x="34" y="330" width="3" height="8" fill="#2f4f4f"/>
<rect x="35" y="331" width="1" height="6" fill="#2e8b57"/>
<rect x="39" y="321" width="1" height="11" fill="#2f4f4f"/>
<rect x="38" y="322" width="3" height="9" fill="#2f4f4f"/>
<rect x="39" y="323" width="1" height="7" fill="#2e8b57"/>
<rect x="43" y="317" width="1" height="8" fill="#2f4f4f"/>
<rect x="42" y="321" width="3" height="2" fill="#2f4f4f"/>
<rect x="47" y="315" width="1" height="11" fill="#2f4f4f"/>
<rect x="46" y="315" width="3" height="7" fill="#2f4f4f"/>
<rect x="47" y="316" width="1" height="5" fill="#2e8b57"/>
<rect x="51" y="314" width="1" height="6" fill="#2f4f4f"/>
<rect x="50" y="314" width="3" height="2" fill="#2f4f4f"/>
<rect x="55" y="310" width="1" height="9" fill="#ff0000"/>
<rect x="54" y="313" width="3" height="2" fill="#ff0000"/>
<rect x="59" y="283" width="1" height="35" fill="#2f4f4f"/>
<rect x="58" y="295" width="3" height="20" fill="#2f4f4f"/>
<rect x="59" y="296" width="1" height="18" fill="#2e8b57"/>
<rect x="63" y="267" width="1" height="30" fill="#2f4f4f"/>
<rect x="62" y="281" width="3" height="14" fill="#2f4f4f"/>
<rect x="63" y="282" width="1" height="12" fill="#2e8b57"/>
<rect x="67" y="275" width="1" height="14" fill="#ff0000"/>
<rect x="66" y="281" width="3" height="2" fill="#ff0000"/>
<rect x="71" y="249" width="1" height="35" fill="#2f4f4f"/>
<rect x="70" y="258" width="3" height="24" fill="#2f4f4f"/>
<rect x="71" y="259" width="1" height="22" fill="#2e8b57"/>
<rect x="75" y="210" width="1" height="49" fill="#2f4f4f"/>
<rect x="74" y="231" width="3" height="28" fill="#2f4f4f"/>
<rect x="75" y="232" width="1" height="26" fill="#2e8b57"/>
<rect x="79" y="216" width="1" height="37" fill="#2f4f4f"/>
<rect x="78" y="223" width="3" height="9" fill="#2f4f4f"/>
<rect x="79" y="224" width="1" height="7" fill="#2e8b57"/>
<rect x="83" y="173" width="1" height="57" fill="#2f4f4f"/>
<rect x="82" y="195" width="3" height="29" fill="#2f4f4f"/>
<rect x="83" y="196" width="1" height="27" fill="#2e8b57"/>
<rect x="87" y="191" width="1" height="42" fill="#ff0000"/>
<rect x="86" y="194" width="3" height="13" fill="#ff0000"/>
<rect x="91" y="188" width="1" height="26" fill="#2f4f4f"/>
<rect x="90" y="190" width="3" height="17" fill="#2f4f4f"/>
<rect x="91" y="191" width="1" height="15" fill="#2e8b57"/>
<rect x="95" y="170" width="1" height="22" fill="#2f4f4f"/>
<rect x="94" y="173" width="3" height="18" fill="#2f4f4f"/>
<rect x="95" y="174" width="1" height="16" fill="#2e8b57"/>
<rect x="99" y="128" width="1" height="57" fill="#2f4f4f"/>
<rect x="98" y="169" width="3" height="6" fill="#2f4f4f"/>
<rect x="99" y="170" width="1" height="4" fill="#2e8b57"/>
<rect x="103" y="162" width="1" height="47" fill="#ff0000"/>
<rect x="102" y="169" width="3" height="1" fill="#ff0000"/>
<rect x="107" y="140" width="1" height="32" fill="#2f4f4f"/>
<rect x="106" y="143" width="3" height="27" fill="#2f4f4f"/>
<rect x="107" y="144" width="1" height="25" fill="#2e8b57"/>
<rect x="111" y="132" width="1" height="24" fill="#ff0000"/>
<rect x="110" y="143" width="3" height="7" fill="#ff0000"/>
<rect x="115" y="138" width="1" height="21" fill="#2f4f4f"/>
<rect x="114" y="141" width="3" height="9" fill="#2f4f4f"/>
<rect x="115" y="142" width="1" height="7" fill="#2e8b57"/>
<rect x="119" y="136" width="1" height="33" fill="#ff0000"/>
<rect x="118" y="141" width="3" height="25" fill="#ff0000"/>
<rect x="123" y="165" width="1" height="29" fill="#ff0000"/>
<rect x="122" y="165" width="3" height="28" fill="#ff0000"/>
<rect x="127" y="183" width="1" height="26" fill="#2f4f4f"/>
<rect x="126" y="189" width="3" height="4" fill="#2f4f4f"/>
<rect x="127" y="190" width="1" height="2" fill="#2e8b57"/>
<rect x="131" y="186" width="1" height="36" fill="#ff0000"/>
<rect x="130" y="189" width="3" height="31" fill="#ff0000"/>
<rect x="135" y="204" width="1" height="37" fill="#2f4f4f"/>
<rect x="134" y="211" width="3" height="9" fill="#2f4f4f"/>
<rect x="135" y="212" width="1" height="7" fill="#2e8b57"/>
<rect x="139" y="203" width="1" height="26" fill="#ff0000"/>
<rect x="138" y="211" width="3" height="18" fill="#ff0000"/>
<rect x="143" y="195" width="1" height="37" fill="#2f4f4f"/>
<rect x="142" y="202" width="3" height="26" fill="#2f4f4f"/>
<rect x="143" y="203" width="1" height="24" fill="#2e8b57"/>
<rect x="147" y="188" width="1" height="18" fill="#2f4f4f"/>
<rect x="146" y="192" width="3" height="12" fill="#2f4f4f"/>
<rect x="147" y="193" width="1" height="10" fill="#2e8b57"/>
<rect x="151" y="191" width="1" height="11" fill="#ff0000"/>
<rect x="150" y="191" width="3" height="4" fill="#ff0000"/>
<rect x="155" y="171" width="1" height="27" fill="#2f4f4f"/>
<rect x="154" y="179" width="3" height="15" fill="#2f4f4f"/>
<rect x="155" y="180" width="1" height="13" fill="#2e8b57"/>
<rect x="159" y="175" width="1" height="13" fill="#ff0000"/>
<rect x="158" y="179" width="3" height="6" fill="#ff0000"/>
<rect x="163" y="180" width="1" height="16" fill="#ff0000"/>
<rect x="162" y="184" width="3" height="2" fill="#ff0000"/>
<rect x="167" y="179" width="1" height="11" fill="#ff0000"/>
<rect x="166" y="185" width="3" height="3" fill="#ff0000"/>
<rect x="171" y="187" width="1" height="11" fill="#ff0000"/>
<rect x="170" y="187" width="3" height="2" fill="#ff0000"/>
<rect x="175" y="187" width="1" height="11" fill="#ff0000"/>
<rect x="174" y="188" width="3" height="3" fill="#ff0000"/>
<rect x="179" y="177" width="1" height="18" fill="#2f4f4f"/>
<rect x="178" y="179" width="3" height="12" fill="#2f4f4f"/>
<rect x="179" y="180" width="1" height="10" fill="#2e8b57"/>
<rect x="183" y="169" width="1" height="14" fill="#2f4f4f"/>
<rect x="182" y="171" width="3" height="9" fill="#2f4f4f"/>
<rect x="183" y="172" width="1" height="7" fill="#2e8b57"/>
<rect x="187" y="169" width="1" height="8" fill="#ff0000"/>
<rect x="186" y="171" width="3" height="3" fill="#ff0000"/>
<rect x="191" y="171" width="1" height="8" fill="#ff0000"/>
<rect x="190" y="174" width="3" height="1" fill="#ff0000"/>
<rect x="195" y="173" width="1" height="7" fill="#ff0000"/>
<rect x="194" y="174" width="3" height="4" fill="#ff0000"/>
<rect x="199" y="162" width="1" height="16" fill="#2f4f4f"/>
<rect x="198" y="162" width="3" height="16" fill="#2f4f4f"/>
<rect x="199" y="163" width="1" height="14" fill="#2e8b57"/>
<rect x="203" y="162" width="1" height="35" fill="#ff0000"/>
<rect x="202" y="162" width="3" height="24" fill="#ff0000"/>
<rect x="207" y="175" width="1" height="14" fill="#2f4f4f"/>
<rect x="206" y="178" width="3" height="8" fill="#2f4f4f"/>
<rect x="207" y="179" width="1" height="6" fill="#2e8b57"/>
<rect x="211" y="171" width="1" height="9" fill="#2f4f4f"/>
<rect x="210" y="172" width="3" height="7" fill="#2f4f4f"/>
<rect x="211" y="173" width="1" height="5" fill="#2e8b57"/>
<rect x="215" y="151" width="1" height="23" fill="#2f4f4f"/>
<rect x="214" y="168" width="3" height="5" fill="#2f4f4f"/>
<rect x="215" y="169" width="1" height="3" fill="#2e8b57"/>
<rect x="219" y="159" width="1" height="20" fill="#2f4f4f"/>
<rect x="218" y="162" width="3" height="6" fill="#2f4f4f"/>
<rect x="219" y="163" width="1" height="4" fill="#2e8b57"/>
<rect x="223" y="123" width="1" height="42" fill="#2f4f4f"/>
<rect x="222" y="123" width="3" height="40" fill="#2f4f4f"/>
<rect x="223" y="124" width="1" height="38" fill="#2e8b57"/>
<rect x="227" y="120" width="1" height="18" fill="#2f4f4f"/>
<rect x="226" y="121" width="3" height="3" fill="#2f4f4f"/>
<rect x="227" y="122" width="1" height="1" fill="#2e8b57"/>
<rect x="231" y="99" width="1" height="24" fill="#2f4f4f"/>
<rect x="230" y="99" width="3" height="23" fill="#2f4f4f"/>
<rect x="231" y="100" width="1" height="21" fill="#2e8b57"/>
<rect x="235" y="72" width="1" height="30" fill="#2f4f4f"/>
<rect x="234" y="84" width="3" height="15" fill="#2f4f4f"/>
<rect x="235" y="85" width="1" height="13" fill="#2e8b57"/>
<rect x="239" y="84" width="1" height="41" fill="#ff0000"/>
<rect x="238" y="84" width="3" height="6" fill="#ff0000"/>
<rect x="243" y="89" width="1" height="28" fill="#ff0000"/>
<rect x="242" y="89" width="3" height="6" fill="#ff0000"/>
<rect x="247" y="88" width="1" height="48" fill="#ff0000"/>
<rect x="246" y="94" width="3" height="36" fill="#ff0000"/>
<rect x="251" y="105" width="1" height="80" fill="#ff0000"/>
<rect x="250" y="127" width="3" height="21" fill="#ff0000"/>
<rect x="255" y="123" width="1" height="25" fill="#2f4f4f"/>
<rect x="254" y="140" width="3" height="8" fill="#2f4f4f"/>
<rect x="255" y="141" width="1" height="6" fill="#2e8b57"/>
<rect x="259" y="125" width="1" height="32" fill="#2f4f4f"/>
<rect x="258" y="127" width="3" height="13" fill="#2f4f4f"/>
<rect x="259" y="128" width="1" height="11" fill="#2e8b57"/>
<rect x="263" y="106" width="1" height="24" fill="#2f4f4f"/>
<rect x="262" y="126" width="3" height="2" fill="#2f4f4f"/>
<rect x="267" y="116" width="1" height="30" fill="#2f4f4f"/>
<rect x="266" y="123" width="3" height="4" fill="#2f4f4f"/>
<rect x="267" y="124" width="1" height="2" fill="#2e8b57"/>
<rect x="271" y="119" width="1" height="19" fill="#ff0000"/>
<rect x="270" y="123" width="3" height="12" fill="#ff0000"/>
<rect x="275" y="122" width="1" height="23" fill="#2f4f4f"/>
<rect x="274" y="125" width="3" height="9" fill="#2f4f4f"/>
<rect x="275" y="126" width="1" height="7" fill="#2e8b57"/>
<rect x="279" y="100" width="1" height="32" fill="#2f4f4f"/>
<rect x="278" y="111" width="3" height="15" fill="#2f4f4f"/>
<rect x="279" y="112" width="1" height="13" fill="#2e8b57"/>
<rect x="283" y="99" width="1" height="14" fill="#2f4f4f"/>
<rect x="282" y="104" width="3" height="8" fill="#2f4f4f"/>
<rect x="283" y="105" width="1" height="6" fill="#2e8b57"/>
<rect x="287" y="101" width="1" height="19" fill="#ff0000"/>
<rect x="286" y="104" width="3" height="14" fill="#ff0000"/>
<rect x="291" y="114" width="1" height="35" fill="#ff0000"/>
<rect x="290" y="117" width="3" height="26" fill="#ff0000"/>
<rect x="295" y="130" width="1" height="20" fill="#2f4f4f"/>
<rect x="294" y="138" width="3" height="5" fill="#2f4f4f"/>
<rect x="295" y="139" width="1" height="3" fill="#2e8b57"/>
<rect x="299" y="128" width="1" height="34" fill="#ff0000"/>
<rect x="298" y="138" width="3" height="18" fill="#ff0000"/>
<rect x="303" y="152" width="1" height="78" fill="#ff0000"/>
<rect x="302" y="152" width="3" height="38" fill="#ff0000"/>
<rect x="307" y="185" width="1" height="69" fill="#ff0000"/>
<rect x="306" y="189" width="3" height="18" fill="#ff0000"/>
<rect x="311" y="196" width="1" height="86" fill="#ff0000"/>
<rect x="310" y="206" width="3" height="76" fill="#ff0000"/>
<rect x="315" y="219" width="1" height="121" fill="#2f4f4f"/>
<rect x="314" y="235" width="3" height="47" fill="#2f4f4f"/>
<rect x="315" y="236" width="1" height="45" fill="#2e8b57"/>
<rect x="319" y="195" width="1" height="55" fill="#2f4f4f"/>
<rect x="318" y="201" width="3" height="34" fill="#2f4f4f"/>
<rect x="319" y="202" width="1" height="32" fill="#2e8b57"/>
<rect x="323" y="173" width="1" height="49" fill="#2f4f4f"/>
<rect x="322" y="194" width="3" height="7" fill="#2f4f4f"/>
<rect x="323" y="195" width="1" height="5" fill="#2e8b57"/>
<rect x="327" y="171" width="1" height="32" fill="#ff0000"/>
<rect x="326" y="195" width="3" height="7" fill="#ff0000"/>
<rect x="331" y="179" width="1" height="36" fill="#2f4f4f"/>
<rect x="330" y="179" width="3" height="22" fill="#2f4f4f"/>
<rect x="331" y="180" width="1" height="20" fill="#2e8b57"/>
<rect x="335" y="162" width="1" height="20" fill="#2f4f4f"/>
<rect x="334" y="168" width="3" height="12" fill="#2f4f4f"/>
<rect x="335" y="169" width="1" height="10" fill="#2e8b57"/>
<rect x="339" y="148" width="1" height="24" fill="#2f4f4f"/>
<rect x="338" y="163" width="3" height="5" fill="#2f4f4f"/>
<rect x="339" y="164" width="1" height="3" fill="#2e8b57"/>
<rect x="343" y="152" width="1" height="16" fill="#2f4f4f"/>
<rect x="342" y="158" width="3" height="6" fill="#2f4f4f"/>
<rect x="343" y="159" width="1" height="4" fill="#2e8b57"/>
<rect x="347" y="155" width="1" height="42" fill="#ff0000"/>
<rect x="346" y="158" width="3" height="39" fill="#ff0000"/>
<rect x="351" y="192" width="1" height="28" fill="#2f4f4f"/>
<rect x="350" y="193" width="3" height="3" fill="#2f4f4f"/>
<rect x="351" y="194" width="1" height="1" fill="#2e8b57"/>
<rect x="355" y="184" width="1" height="24" fill="#ff0000"/>
<rect x="354" y="186" width="3" height="19" fill="#ff0000"/>
<rect x="359" y="204" width="1" height="44" fill="#ff0000"/>
<rect x="358" y="204" width="3" height="14" fill="#ff0000"/>
<rect x="363" y="206" width="1" height="19" fill="#ff0000"/>
<rect x="362" y="218" width="3" height="5" fill="#ff0000"/>
<rect x="367" y="213" width="1" height="26" fill="#2f4f4f"/>
<rect x="366" y="220" width="3" height="3" fill="#2f4f4f"/>
<rect x="367" y="221" width="1" height="1" fill="#2e8b57"/>
<rect x="371" y="176" width="1" height="47" fill="#2f4f4f"/>
<rect x="370" y="176" width="3" height="44" fill="#2f4f4f"/>
<rect x="371" y="177" width="1" height="42" fill="#2e8b57"/>
<rect x="375" y="172" width="1" height="22" fill="#2f4f4f"/>
<rect x="374" y="174" width="3" height="3" fill="#2f4f4f"/>
<rect x="375" y="175" width="1" height="1" fill="#2e8b57"/>
<rect x="379" y="163" width="1" height="18" fill="#2f4f4f"/>
<rect x="378" y="170" width="3" height="5" fill="#2f4f4f"/>
<rect x="379" y="171" width="1" height="3" fill="#2e8b57"/>
<rect x="383" y="152" width="1" height="28" fill="#ff0000"/>
<rect x="382" y="170" width="3" height="10" fill="#ff0000"/>
<rect x="387" y="162" width="1" height="21" fill="#2f4f4f"/>
<rect x="386" y="169" width="3" height="11" fill="#2f4f4f"/>
<rect x="387" y="170" width="1" height="9" fill="#2e8b57"/>
<rect x="391" y="156" width="1" height="16" fill="#2f4f4f"/>
<rect x="390" y="168" width="3" height="2" fill="#2f4f4f"/>
<rect x="395" y="163" width="1" height="9" fill="#2f4f4f"/>
<rect x="394" y="164" width="3" height="4" fill="#2f4f4f"/>
<rect x="395" y="165" width="1" height="2" fill="#2e8b57"/>
<rect x="399" y="146" width="1" height="20" fill="#2f4f4f"/>
<rect x="398" y="158" width="3" height="7" fill="#2f4f4f"/>
<rect x="399" y="159" width="1" height="5" fill="#2e8b57"/>
<rect x="403" y="149" width="1" height="11" fill="#2f4f4f"/>
<rect x="402" y="151" width="3" height="7" fill="#2f4f4f"/>
<rect x="403" y="152" width="1" height="5" fill="#2e8b57"/>
<rect x="407" y="150" width="1" height="15" fill="#ff0000"/>
<rect x="406" y="151" width="3" height="10" fill="#ff0000"/>
<rect x="411" y="155" width="1" height="11" fill="#ff0000"/>
<rect x="410" y="160" width="3" height="2" fill="#ff0000"/>
<rect x="415" y="156" width="1" height="8" fill="#2f4f4f"/>
<rect x="414" y="157" width="3" height="5" fill="#2f4f4f"/>
<rect x="415" y="158" width="1" height="3" fill="#2e8b57"/>
<rect x="419" y="146" width="1" height="15" fill="#2f4f4f"/>
<rect x="418" y="149" width="3" height="8" fill="#2f4f4f"/>
<rect x="419" y="150" width="1" height="6" fill="#2e8b57"/>
<rect x="423" y="146" width="1" height="8" fill="#2f4f4f"/>
<rect x="422" y="146" width="3" height="4" fill="#2f4f4f"/>
<rect x="423" y="147" width="1" height="2" fill="#2e8b57"/>
<rect x="427" y="144" width="1" height="10" fill="#ff0000"/>
<rect x="426" y="146" width="3" height="8" fill="#ff0000"/>
<rect x="431" y="151" width="1" height="14" fill="#2f4f4f"/>
<rect x="430" y="151" width="3" height="3" fill="#2f4f4f"/>
<rect x="431" y="152" width="1" height="1" fill="#2e8b57"/>
<rect x="435" y="150" width="1" height="35" fill="#ff0000"/>
<rect x="434" y="152" width="3" height="19" fill="#ff0000"/>
<rect x="439" y="162" width="1" height="17" fill="#2f4f4f"/>
<rect x="438" y="168" width="3" height="4" fill="#2f4f4f"/>
<rect x="439" y="169" width="1" height="2" fill="#2e8b57"/>
<rect x="443" y="160" width="1" height="11" fill="#2f4f4f"/>
<rect x="442" y="164" width="3" height="4" fill="#2f4f4f"/>
<rect x="443" y="165" width="1" height="2" fill="#2e8b57"/>
<rect x="447" y="160" width="1" height="39" fill="#ff0000"/>
<rect x="446" y="164" width="3" height="33" fill="#ff0000"/>
<rect x="451" y="186" width="1" height="12" fill="#2f4f4f"/>
<rect x="450" y="191" width="3" height="6" fill="#2f4f4f"/>
<rect x="451" y="192" width="1" height="4" fill="#2e8b57"/>
<rect x="455" y="183" width="1" height="29" fill="#2f4f4f"/>
<rect x="454" y="187" width="3" height="5" fill="#2f4f4f"/>
<rect x="455" y="188" width="1" height="3" fill="#2e8b57"/>
<rect x="459" y="175" width="1" height="21" fill="#ff0000"/>
<rect x="458" y="186" width="3" height="2" fill="#ff0000"/>
<rect x="463" y="186" width="1" height="18" fill="#ff0000"/>
<rect x="462" y="186" width="3" height="2" fill="#ff0000"/>
<rect x="467" y="172" width="1" height="18" fill="#2f4f4f"/>
<rect x="466" y="177" width="3" height="11" fill="#2f4f4f"/>
<rect x="467" y="178" width="1" height="9" fill="#2e8b57"/>
<rect x="471" y="159" width="1" height="19" fill="#2f4f4f"/>
<rect x="470" y="160" width="3" height="17" fill="#2f4f4f"/>
<rect x="471" y="161" width="1" height="15" fill="#2e8b57"/>
<rect x="475" y="157" width="1" height="22" fill="#ff0000"/>
<rect x="474" y="160" width="3" height="19" fill="#ff0000"/>
<rect x="479" y="165" width="1" height="17" fill="#2f4f4f"/>
<rect x="478" y="165" width="3" height="14" fill="#2f4f4f"/>
<rect x="479" y="166" width="1" height="12" fill="#2e8b57"/>
<rect x="483" y="153" width="1" height="13" fill="#2f4f4f"/>
<rect x="482" y="159" width="3" height="7" fill="#2f4f4f"/>
<rect x="483" y="160" width="1" height="5" fill="#2e8b57"/>
<rect x="487" y="155" width="1" height="15" fill="#ff0000"/>
<rect x="486" y="159" width="3" height="7" fill="#ff0000"/>
<rect x="491" y="156" width="1" height="18" fill="#ff0000"/>
<rect x="490" y="165" width="3" height="8" fill="#ff0000"/>
<rect x="495" y="172" width="1" height="22" fill="#ff0000"/>
<rect x="494" y="172" width="3" height="6" fill="#ff0000"/>
<rect x="499" y="172" width="1" height="10" fill="#2f4f4f"/>
<rect x="498" y="173" width="3" height="7" fill="#2f4f4f"/>
<rect x="499" y="174" width="1" height="5" fill="#2e8b57"/>
<rect x="503" y="169" width="1" height="27" fill="#ff0000"/>
<rect x="502" y="173" width="3" height="11" fill="#ff0000"/>
<rect x="507" y="175" width="1" height="23" fill="#2f4f4f"/>
<rect x="506" y="180" width="3" height="4" fill="#2f4f4f"/>
<rect x="507" y="181" width="1" height="2" fill="#2e8b57"/>
<rect x="511" y="179" width="1" height="14" fill="#2f4f4f"/>
<rect x="510" y="180" width="3" height="1" fill="#2f4f4f"/>
<rect x="515" y="177" width="1" height="16" fill="#ff0000"/>
<rect x="514" y="179" width="3" height="3" fill="#ff0000"/>
<rect x="519" y="182" width="1" height="9" fill="#ff0000"/>
<rect x="518" y="182" width="3" height="8" fill="#ff0000"/>
<rect x="523" y="184" width="1" height="10" fill="#ff0000"/>
<rect x="522" y="189" width="3" height="4" fill="#ff0000"/>
<rect x="527" y="176" width="1" height="18" fill="#2f4f4f"/>
<rect x="526" y="180" width="3" height="13" fill="#2f4f4f"/>
<rect x="527" y="181" width="1" height="11" fill="#2e8b57"/>
<rect x="531" y="161" width="1" height="21" fill="#2f4f4f"/>
<rect x="530" y="163" width="3" height="18" fill="#2f4f4f"/>
<rect x="531" y="164" width="1" height="16" fill="#2e8b57"/>
<rect x="535" y="158" width="1" height="12" fill="#2f4f4f"/>
<rect x="534" y="161" width="3" height="2" fill="#2f4f4f"/>
<rect x="539" y="160" width="1" height="13" fill="#ff0000"/>
<rect x="538" y="161" width="3" height="12" fill="#ff0000"/>
<rect x="543" y="159" width="1" height="17" fill="#2f4f4f"/>
<rect x="542" y="160" width="3" height="13" fill="#2f4f4f"/>
<rect x="543" y="161" width="1" height="11" fill="#2e8b57"/>
<rect x="547" y="150" width="1" height="20" fill="#ff0000"/>
<rect x="546" y="160" width="3" height="1" fill="#ff0000"/>
<rect x="551" y="154" width="1" height="16" fill="#ff0000"/>
<rect x="550" y="160" width="3" height="5" fill="#ff0000"/>
<rect x="555" y="157" width="1" height="17" fill="#2f4f4f"/>
<rect x="554" y="162" width="3" height="3" fill="#2f4f4f"/>
<rect x="555" y="163" width="1" height="1" fill="#2e8b57"/>
<rect x="559" y="147" width="1" height="20" fill="#2f4f4f"/>
<rect x="558" y="149" width="3" height="13" fill="#2f4f4f"/>
<rect x="559" y="150" width="1" height="11" fill="#2e8b57"/>
<rect x="563" y="88" width="1" height="70" fill="#2f4f4f"/>
<rect x="562" y="93" width="3" height="56" fill="#2f4f4f"/>
<rect x="563" y="94" width="1" height="54" fill="#2e8b57"/>
<rect x="567" y="70" width="1" height="43" fill="#ff0000"/>
<rect x="566" y="92" width="3" height="6" fill="#ff0000"/>
<rect x="571" y="88" width="1" height="16" fill="#2f4f4f"/>
<rect x="570" y="96" width="3" height="2" fill="#2f4f4f"/>
<rect x="575" y="81" width="1" height="17" fill="#2f4f4f"/>
<rect x="574" y="81" width="3" height="16" fill="#2f4f4f"/>
<rect x="575" y="82" width="1" height="14" fill="#2e8b57"/>
<rect x="579" y="78" width="1" height="8" fill="#ff0000"/>
<rect x="578" y="81" width="3" height="4" fill="#ff0000"/>
</g>
<defs><linearGradient id="rg" x1="0" y1="0" x2="0" y2="1"><stop offset="0" stop-color="#d6d6da" stop-opacity="0.6"/><stop offset="0.5" stop-color="#c0c0c6" stop-opacity="0.62"/><stop offset="1" stop-color="#ccccd2" stop-opacity="0.6"/></linearGradient><filter id="bl" x="-5%" y="-80%" width="110%" height="260%"><feGaussianBlur stdDeviation="2"/></filter></defs>
<rect x="313" y="139" width="445" height="18" fill="#000" opacity="0.16" filter="url(#bl)"/>
<rect x="314.5" y="140.5" width="442" height="14" fill="url(#rg)" stroke="#9c82ba" stroke-width="1"/>
<g stroke="#a82a20" stroke-width="3" stroke-linecap="round" fill="#a82a20">
<line x1="584.5" y1="81" x2="594" y2="106"/>
<polygon points="598,117 587,108.5 599.8,104.2" stroke="none"/>
<line x1="601.5" y1="117.5" x2="631" y2="18"/>
<polygon points="634.5,7.5 624.6,16.2 638,20.4" stroke="none"/>
</g>
<g fill="#080808">
<path d="M524.6,237.7 H542.4 V243.5 H531.8 V247.3 H540.7 V252.9 H531.8 V261 H524.6 Z"/>
<path fill-rule="evenodd" d="M556.4,236.9 C563.6,236.9 568.7,242.2 568.7,249.25 C568.7,256.3 563.6,261.6 556.4,261.6 C549.2,261.6 544.1,256.3 544.1,249.25 C544.1,242.2 549.2,236.9 556.4,236.9 Z M556.45,243.5 C553.5,243.5 551.3,245.8 551.3,249.4 C551.3,253 553.5,255.3 556.45,255.3 C559.4,255.3 561.6,253 561.6,249.4 C561.6,245.8 559.4,243.5 556.45,243.5 Z"/>
<path fill-rule="evenodd" d="M571,237.7 H583.5 C589.5,237.7 592.8,241 592.8,245.8 C592.8,249.3 591,251.8 588,253 L593,261 H585.2 L580.9,254.2 H578 V261 H571 Z M578,243.4 V248.6 H582.6 C584.6,248.6 585.6,247.6 585.6,246 C585.6,244.4 584.6,243.4 582.6,243.4 Z"/>
<path d="M594.6,237.7 H612.8 V243.5 H602 V246.9 H611.8 V251.7 H602 V255.5 H613.2 V261 H594.6 Z"/>
<path d="M614.2,237.7 H623.4 L626.6,243.6 L630,237.7 H638.8 L631.6,249.2 L639.3,261 H630 L626.5,254.9 L622.9,261 H613.7 L621.5,249.2 Z"/>
</g>
<g fill="#f5220c">
<path d="M640.3,228 C644,224.4 650,222.3 657,222.3 C666,222.3 671.4,227.5 671.4,235 C671.4,240 669,243.5 664,247.5 L659.5,251.6 H671.9 V261.1 H641.1 V253.9 L654.5,242.5 C658,239.5 659.4,238 659.4,236 C659.4,233.6 657.8,232.2 655,232.2 C651.5,232.2 648.3,233.8 646,237 Z"/>
<path fill-rule="evenodd" d="M693,223.1 H705.5 V245.4 H711.2 V254.5 H705.5 V261.1 H694.3 V254.5 H674.2 V247.6 Z M694.3,235.1 V245.4 H685.8 Z"/>
</g>
<rect x="714" y="257" width="4.2" height="4.3" rx="1.6" fill="#1a1a1a"/>
<g fill="none" stroke="#3e3e3e" stroke-width="1.9" stroke-linejoin="miter">
<path d="M722.2,261 V243.2 H728 C735.4,243.2 735.4,253.3 728,253.3 H722.2"/>
<path d="M739.9,261 V243.2 H745.8 C753.2,243.2 753.2,253.3 745.8,253.3 H739.9 M746.6,253.5 L752.3,261"/>
<ellipse cx="762.3" cy="251.5" rx="7.5" ry="9"/>
</g>
<g shape-rendering="crispEdges" fill="#000">
<rect x="2" y="2" width="786" height="1"/>
<rect x="2" y="2" width="1" height="399"/>
<rect x="787" y="2" width="1" height="399"/>
<rect x="2" y="400" width="786" height="1"/>
<rect x="788" y="34" width="3" height="1"/>
<rect x="788" y="67" width="3" height="1"/>
<rect x="788" y="100" width="3" height="1"/>
<rect x="788" y="133" width="3" height="1"/>
<rect x="788" y="166" width="3" height="1"/>
<rect x="788" y="199" width="3" height="1"/>
<rect x="788" y="232" width="3" height="1"/>
<rect x="788" y="265" width="3" height="1"/>
<rect x="788" y="298" width="3" height="1"/>
<rect x="788" y="331" width="3" height="1"/>
<rect x="788" y="364" width="3" height="1"/>
<rect x="788" y="397" width="3" height="1"/>
<rect x="3" y="401" width="1" height="3"/>
<rect x="67" y="401" width="1" height="3"/>
<rect x="131" y="401" width="1" height="3"/>
<rect x="195" y="401" width="1" height="3"/>
<rect x="259" y="401" width="1" height="3"/>
<rect x="323" y="401" width="1" height="3"/>
<rect x="387" y="401" width="1" height="3"/>
<rect x="451" y="401" width="1" height="3"/>
<rect x="515" y="401" width="1" height="3"/>
<rect x="579" y="401" width="1" height="3"/>
</g>
<text x="792.5" y="38.0" font-size="9.4" fill="#000" stroke="#000" stroke-width="0.2" textLength="32.5" lengthAdjust="spacingAndGlyphs">897.850</text>
<text x="792.5" y="71.0" font-size="9.4" fill="#000" stroke="#000" stroke-width="0.2" textLength="32.5" lengthAdjust="spacingAndGlyphs">848.350</text>
<text x="792.5" y="104.0" font-size="9.4" fill="#000" stroke="#000" stroke-width="0.2" textLength="32.5" lengthAdjust="spacingAndGlyphs">797.350</text>
<text x="792.5" y="137.0" font-size="9.4" fill="#000" stroke="#000" stroke-width="0.2" textLength="32.5" lengthAdjust="spacingAndGlyphs">747.850</text>
<text x="792.5" y="170.0" font-size="9.4" fill="#000" stroke="#000" stroke-width="0.2" textLength="32.5" lengthAdjust="spacingAndGlyphs">698.350</text>
<text x="792.5" y="203.0" font-size="9.4" fill="#000" stroke="#000" stroke-width="0.2" textLength="32.5" lengthAdjust="spacingAndGlyphs">648.850</text>
<text x="792.5" y="236.0" font-size="9.4" fill="#000" stroke="#000" stroke-width="0.2" textLength="32.5" lengthAdjust="spacingAndGlyphs">599.350</text>
<text x="792.5" y="269.0" font-size="9.4" fill="#000" stroke="#000" stroke-width="0.2" textLength="32.5" lengthAdjust="spacingAndGlyphs">548.350</text>
<text x="792.5" y="302.0" font-size="9.4" fill="#000" stroke="#000" stroke-width="0.2" textLength="32.5" lengthAdjust="spacingAndGlyphs">498.850</text>
<text x="792.5" y="335.0" font-size="9.4" fill="#000" stroke="#000" stroke-width="0.2" textLength="32.5" lengthAdjust="spacingAndGlyphs">449.350</text>
<text x="792.5" y="368.0" font-size="9.4" fill="#000" stroke="#000" stroke-width="0.2" textLength="32.5" lengthAdjust="spacingAndGlyphs">399.850</text>
<text x="792.5" y="401.0" font-size="9.4" fill="#000" stroke="#000" stroke-width="0.2" textLength="32.5" lengthAdjust="spacingAndGlyphs">350.350</text>
<rect x="790" y="79" width="40" height="11" fill="#000" shape-rendering="crispEdges"/>
<text x="792.5" y="88.0" font-size="9.4" fill="#fff" stroke="#fff" stroke-width="0.2" textLength="32.5" lengthAdjust="spacingAndGlyphs">821.756</text>
<text x="2.0" y="413.0" font-size="9.4" fill="#000" stroke="#000" stroke-width="0.2" textLength="46.0" lengthAdjust="spacingAndGlyphs">9 Dec 2017</text>
<text x="66.0" y="413.0" font-size="9.4" fill="#000" stroke="#000" stroke-width="0.2" textLength="53.5" lengthAdjust="spacingAndGlyphs">12 Dec 08:00</text>
<text x="130.0" y="413.0" font-size="9.4" fill="#000" stroke="#000" stroke-width="0.2" textLength="53.5" lengthAdjust="spacingAndGlyphs">15 Dec 00:00</text>
<text x="194.0" y="413.0" font-size="9.4" fill="#000" stroke="#000" stroke-width="0.2" textLength="53.5" lengthAdjust="spacingAndGlyphs">17 Dec 16:00</text>
<text x="258.0" y="413.0" font-size="9.4" fill="#000" stroke="#000" stroke-width="0.2" textLength="53.5" lengthAdjust="spacingAndGlyphs">20 Dec 08:00</text>
<text x="322.0" y="413.0" font-size="9.4" fill="#000" stroke="#000" stroke-width="0.2" textLength="53.5" lengthAdjust="spacingAndGlyphs">23 Dec 00:00</text>
<text x="386.0" y="413.0" font-size="9.4" fill="#000" stroke="#000" stroke-width="0.2" textLength="53.5" lengthAdjust="spacingAndGlyphs">25 Dec 16:00</text>
<text x="450.0" y="413.0" font-size="9.4" fill="#000" stroke="#000" stroke-width="0.2" textLength="53.5" lengthAdjust="spacingAndGlyphs">28 Dec 08:00</text>
<text x="514.0" y="413.0" font-size="9.4" fill="#000" stroke="#000" stroke-width="0.2" textLength="53.5" lengthAdjust="spacingAndGlyphs">31 Dec 00:00</text>
<text x="578.0" y="413.0" font-size="9.4" fill="#000" stroke="#000" stroke-width="0.2" textLength="47.0" lengthAdjust="spacingAndGlyphs">2 Jan 16:00</text>
<polygon points="6,9 13,9 9.5,13" fill="#000"/>
<text x="17.0" y="14.0" font-size="9.4" fill="#000" stroke="#000" stroke-width="0.2" textLength="55.0" lengthAdjust="spacingAndGlyphs">ETHUSD,H4</text>
<text x="77.2" y="14.0" font-size="9.4" fill="#000" stroke="#000" stroke-width="0.2" textLength="32.5" lengthAdjust="spacingAndGlyphs">826.323</text>
<text x="113.1" y="14.0" font-size="9.4" fill="#000" stroke="#000" stroke-width="0.2" textLength="32.5" lengthAdjust="spacingAndGlyphs">831.881</text>
<text x="149.0" y="14.0" font-size="9.4" fill="#000" stroke="#000" stroke-width="0.2" textLength="32.5" lengthAdjust="spacingAndGlyphs">820.339</text>
<text x="184.9" y="14.0" font-size="9.4" fill="#000" stroke="#000" stroke-width="0.2" textLength="32.5" lengthAdjust="spacingAndGlyphs">821.756</text>
</svg></body></html>
